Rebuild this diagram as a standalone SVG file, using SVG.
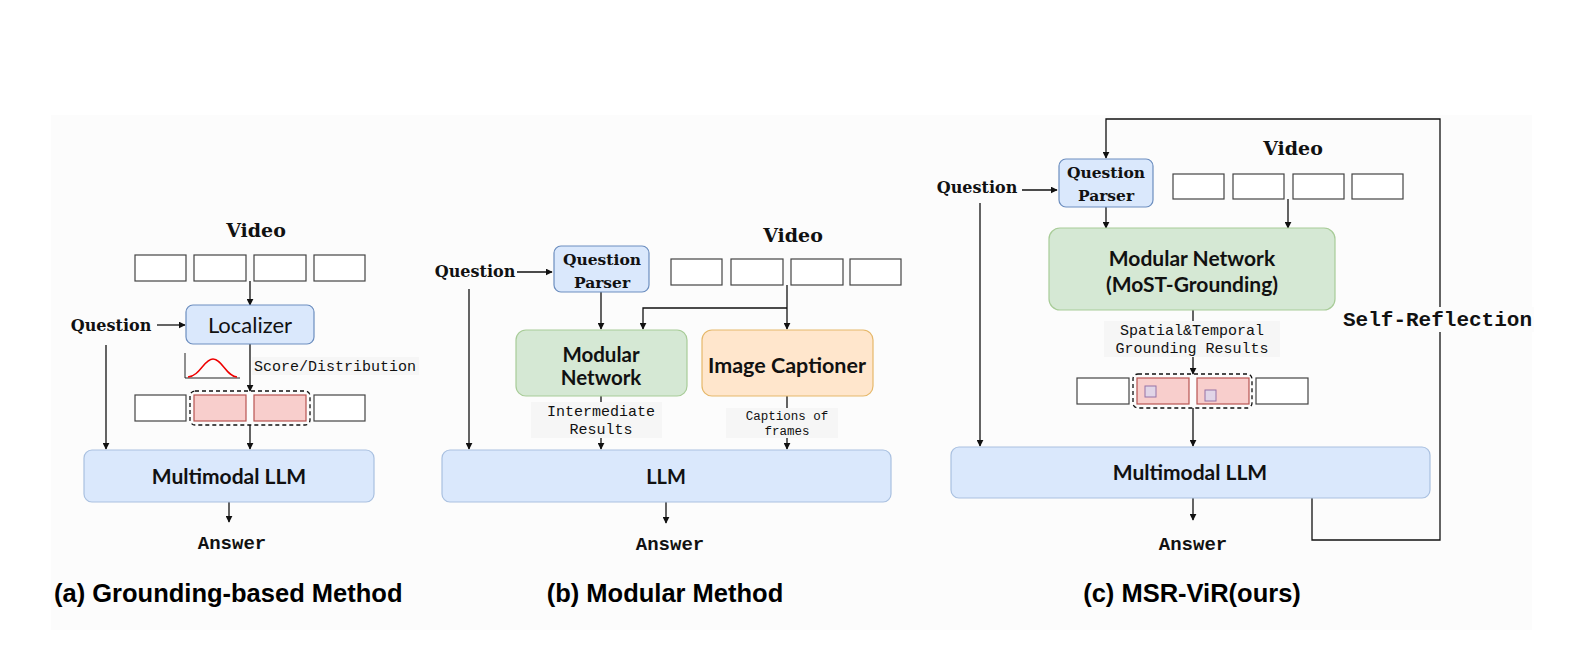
<svg xmlns="http://www.w3.org/2000/svg" width="1572" height="668" viewBox="0 0 1572 668">
<defs>
<marker id="arr" viewBox="0 0 10 10" refX="9" refY="5" markerWidth="7" markerHeight="7" markerUnits="userSpaceOnUse" orient="auto">
<path d="M0,0 L10,5 L0,10 Z" fill="#111"/>
</marker>
<style>
.conn{fill:none;stroke:#111;stroke-width:1.3}
.frame{fill:#ffffff;stroke:#444;stroke-width:1.2}
.pink{fill:#f8cecc;stroke:#b85450;stroke-width:1.2}
.purple{fill:#e1d5e7;stroke:#9673a6;stroke-width:1}
.dash{fill:none;stroke:#111;stroke-width:1.3;stroke-dasharray:4 3}
.blue{fill:#dae8fc;stroke:#6c8ebf;stroke-width:1.2}
.bluesoft{fill:#dae8fc;stroke:#a9c0e0;stroke-width:1.2}
.green{fill:#d5e8d4;stroke:#a8cc98;stroke-width:1.2}
.orange{fill:#ffe6cc;stroke:#e6b86a;stroke-width:1.2}
.serif{font-family:"DejaVu Serif","Liberation Serif",serif;font-weight:bold;fill:#111;text-anchor:middle}
.hand{font-family:"Lato","Noto Sans",sans-serif;fill:#111;text-anchor:middle}
.mono{font-family:"Liberation Mono","DejaVu Sans Mono",monospace;fill:#111}
.cap{font-family:"Liberation Sans",Arial,sans-serif;font-weight:bold;fill:#000;font-size:25.5px}
.lbg{fill:#f6f6f6}
</style>
</defs>
<rect x="0" y="0" width="1572" height="668" fill="#ffffff"/>
<rect x="51" y="115" width="1481" height="515" fill="#fcfcfc"/>

<g id="connectors">
<!-- panel a -->
<line class="conn" x1="250" y1="281" x2="250" y2="305" marker-end="url(#arr)"/>
<line class="conn" x1="157" y1="325" x2="185" y2="325" marker-end="url(#arr)"/>
<line class="conn" x1="250" y1="344" x2="250" y2="391" marker-end="url(#arr)"/>
<line class="conn" x1="250" y1="425" x2="250" y2="449" marker-end="url(#arr)"/>
<line class="conn" x1="106" y1="345" x2="106" y2="449" marker-end="url(#arr)"/>
<line class="conn" x1="229" y1="502" x2="229" y2="522" marker-end="url(#arr)"/>
<!-- panel b -->
<line class="conn" x1="517" y1="272" x2="552" y2="272" marker-end="url(#arr)"/>
<line class="conn" x1="601" y1="292" x2="601" y2="329" marker-end="url(#arr)"/>
<line class="conn" x1="787" y1="285" x2="787" y2="329" marker-end="url(#arr)"/>
<path class="conn" d="M787,308 H643 V329" marker-end="url(#arr)"/>
<line class="conn" x1="601" y1="396" x2="601" y2="449" marker-end="url(#arr)"/>
<line class="conn" x1="787" y1="396" x2="787" y2="449" marker-end="url(#arr)"/>
<line class="conn" x1="469" y1="289" x2="469" y2="449" marker-end="url(#arr)"/>
<line class="conn" x1="666" y1="502" x2="666" y2="523" marker-end="url(#arr)"/>
<!-- panel c -->
<path class="conn" d="M1312,498 V540 H1440 V119 H1106 V158" marker-end="url(#arr)"/>
<line class="conn" x1="1022" y1="190" x2="1057" y2="190" marker-end="url(#arr)"/>
<line class="conn" x1="1106" y1="207" x2="1106" y2="228" marker-end="url(#arr)"/>
<line class="conn" x1="1288" y1="199" x2="1288" y2="228" marker-end="url(#arr)"/>
<line class="conn" x1="1193" y1="310" x2="1193" y2="374" marker-end="url(#arr)"/>
<line class="conn" x1="1193" y1="408" x2="1193" y2="446" marker-end="url(#arr)"/>
<line class="conn" x1="980" y1="203" x2="980" y2="446" marker-end="url(#arr)"/>
<line class="conn" x1="1193" y1="498" x2="1193" y2="520" marker-end="url(#arr)"/>
</g>

<!-- ===== Panel (a) ===== -->
<g id="a-video">
<text class="serif" x="256" y="237" font-size="19">Video</text>
<rect class="frame" x="135" y="255" width="51" height="26"/>
<rect class="frame" x="194" y="255" width="52" height="26"/>
<rect class="frame" x="254" y="255" width="52" height="26"/>
<rect class="frame" x="314" y="255" width="51" height="26"/>
</g>
<g id="a-question">
<text class="serif" x="111" y="331" font-size="16">Question</text>
</g>
<g id="a-localizer">
<rect class="blue" x="186" y="305" width="128" height="39" rx="7"/>
<text class="hand" x="250" y="333" font-size="22">Localizer</text>
</g>
<g id="a-score">
<polyline points="185,353 185,378 240,378" fill="none" stroke="#222" stroke-width="1"/>
<path d="M188,377 C200,376 204,359 213,359 C222,359 226,376 237,377" fill="none" stroke="#e00" stroke-width="1.5"/>
<rect class="lbg" x="252" y="357" width="167" height="18"/>
<text class="mono" x="254" y="371" font-size="15">Score/Distribution</text>
</g>
<g id="a-selected">
<rect class="frame" x="135" y="395" width="51" height="26"/>
<rect class="pink" x="194" y="395" width="52" height="26"/>
<rect class="pink" x="254" y="395" width="52" height="26"/>
<rect class="frame" x="314" y="395" width="51" height="26"/>
<rect class="dash" x="190" y="391" width="120" height="34" rx="5"/>
</g>
<g id="a-llm">
<rect class="bluesoft" x="84" y="450" width="290" height="52" rx="8"/>
<text class="hand" x="229" y="484" font-size="21" font-weight="bold">Multimodal LLM</text>
</g>
<g id="a-answer">
<text class="mono" x="232" y="549" font-size="19" font-weight="bold" text-anchor="middle">Answer</text>
</g>
<g id="a-caption">
<text class="cap" x="54" y="602">(a) Grounding-based Method</text>
</g>

<!-- ===== Panel (b) ===== -->
<g id="b-video">
<text class="serif" x="793" y="242" font-size="19">Video</text>
<rect class="frame" x="671" y="259" width="51" height="26"/>
<rect class="frame" x="731" y="259" width="52" height="26"/>
<rect class="frame" x="791" y="259" width="52" height="26"/>
<rect class="frame" x="850" y="259" width="51" height="26"/>
</g>
<g id="b-question">
<text class="serif" x="475" y="277" font-size="16">Question</text>
</g>
<g id="b-parser">
<rect class="blue" x="554" y="246" width="95" height="46" rx="7"/>
<text class="serif" x="602" y="265" font-size="15.5">Question</text>
<text class="serif" x="602" y="288" font-size="15.5">Parser</text>
</g>
<g id="b-modular">
<rect class="green" x="516" y="330" width="171" height="66" rx="10"/>
<text class="hand" x="601" y="362" font-size="20.5" font-weight="bold">Modular</text>
<text class="hand" x="601" y="385" font-size="20.5" font-weight="bold">Network</text>
</g>
<g id="b-captioner">
<rect class="orange" x="702" y="330" width="171" height="66" rx="10"/>
<text class="hand" x="787" y="373" font-size="21.5" font-weight="bold">Image Captioner</text>
</g>
<g id="b-inter">
<rect class="lbg" x="531" y="402" width="131" height="36"/>
<text class="mono" x="601" y="416" font-size="15" text-anchor="middle">Intermediate</text>
<text class="mono" x="601" y="434" font-size="15" text-anchor="middle">Results</text>
</g>
<g id="b-captions">
<rect class="lbg" x="726" y="408" width="112" height="30"/>
<text class="mono" x="787" y="420" font-size="12.5" text-anchor="middle">Captions of</text>
<text class="mono" x="787" y="435" font-size="12.5" text-anchor="middle">frames</text>
</g>
<g id="b-llm">
<rect class="bluesoft" x="442" y="450" width="449" height="52" rx="8"/>
<text class="hand" x="666" y="484" font-size="20" font-weight="bold">LLM</text>
</g>
<g id="b-answer">
<text class="mono" x="670" y="550" font-size="19" font-weight="bold" text-anchor="middle">Answer</text>
</g>
<g id="b-caption">
<text class="cap" x="665" y="602" text-anchor="middle">(b) Modular Method</text>
</g>

<!-- ===== Panel (c) ===== -->
<g id="c-video">
<text class="serif" x="1293" y="155" font-size="19">Video</text>
<rect class="frame" x="1173" y="174" width="51" height="25"/>
<rect class="frame" x="1233" y="174" width="51" height="25"/>
<rect class="frame" x="1293" y="174" width="51" height="25"/>
<rect class="frame" x="1352" y="174" width="51" height="25"/>
</g>
<g id="c-question">
<text class="serif" x="977" y="193" font-size="16">Question</text>
</g>
<g id="c-parser">
<rect class="blue" x="1059" y="159" width="94" height="48" rx="7"/>
<text class="serif" x="1106" y="178" font-size="15.5">Question</text>
<text class="serif" x="1106" y="201" font-size="15.5">Parser</text>
</g>
<g id="c-modular">
<rect class="green" x="1049" y="228" width="286" height="82" rx="11"/>
<text class="hand" x="1192" y="266" font-size="21" font-weight="bold">Modular Network</text>
<text class="hand" x="1192" y="292" font-size="21" font-weight="bold">(MoST-Grounding)</text>
</g>
<g id="c-grounding">
<rect class="lbg" x="1104" y="321" width="176" height="36"/>
<text class="mono" x="1192" y="335" font-size="15" text-anchor="middle">Spatial&amp;Temporal</text>
<text class="mono" x="1192" y="353" font-size="15" text-anchor="middle">Grounding Results</text>
</g>
<g id="c-selected">
<rect class="frame" x="1077" y="378" width="52" height="26"/>
<rect class="pink" x="1137" y="378" width="52" height="26"/>
<rect class="pink" x="1197" y="378" width="52" height="26"/>
<rect class="frame" x="1256" y="378" width="52" height="26"/>
<rect class="purple" x="1145" y="386" width="11" height="11"/>
<rect class="purple" x="1205" y="390" width="11" height="11"/>
<rect class="dash" x="1133" y="374" width="119" height="34" rx="5"/>
</g>
<g id="c-llm">
<rect class="bluesoft" x="951" y="447" width="479" height="51" rx="8"/>
<text class="hand" x="1190" y="480" font-size="21" font-weight="bold">Multimodal LLM</text>
</g>
<g id="c-answer">
<text class="mono" x="1193" y="550" font-size="19" font-weight="bold" text-anchor="middle">Answer</text>
</g>
<g id="c-reflection">
<rect x="1340" y="307" width="194" height="25" fill="#fcfcfc"/>
<text class="mono" x="1343" y="326" font-size="21" font-weight="bold">Self-Reflection</text>
</g>
<g id="c-caption">
<text class="cap" x="1192" y="602" text-anchor="middle">(c) MSR-ViR(ours)</text>
</g>
</svg>
